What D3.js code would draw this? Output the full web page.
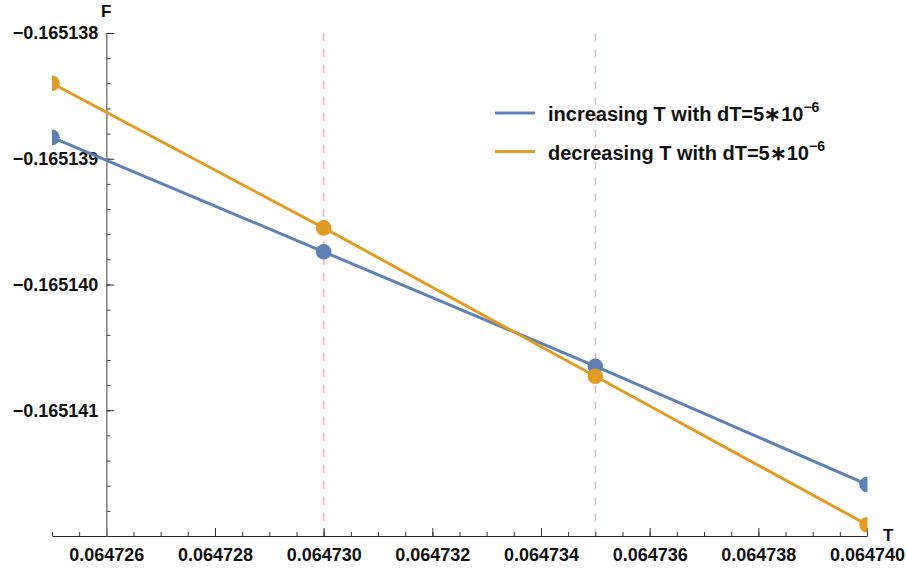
<!DOCTYPE html>
<html>
<head>
<meta charset="utf-8">
<script src="https://cdn.jsdelivr.net/npm/d3@7"></script>
<style>
  html, body { margin: 0; padding: 0; background: #fff; }
  svg { display: block; font-family: "Liberation Sans", Arial, sans-serif; }
</style>
</head>
<body>
<svg id="chart" width="906" height="569"></svg>
<script>
// Free energy F versus temperature T, sweeping T up and down
const temps = [0.064725, 0.064730, 0.064735, 0.064740];
const increasingF = [-0.16513883, -0.16513974, -0.16514065, -0.16514159];
const decreasingF = [-0.16513840, -0.16513955, -0.16514073, -0.16514191];
const seriesNames = ["increasing T with dT=5\u221710", "decreasing T with dT=5\u221710"];
const seriesExponent = "\u22126";
const seriesColors = ["#5e81b5", "#e19c24"];
const markerTemps = [0.064730, 0.064735];
const markerColors = ["#ffb0b0", "#eea4a4"];
const markerWidths = [1.8, 1.1];
const xMajorTicks = [0.064726, 0.064728, 0.064730, 0.064732, 0.064734, 0.064736, 0.064738, 0.064740];
const yMajorTicks = [-0.165138, -0.165139, -0.165140, -0.165141];

const FONT = "'Liberation Sans', Arial, sans-serif";
const svg = d3.select("#chart");

const x = d3.scaleLinear().domain([0.064725, 0.064740]).range([52, 867]);
const y = d3.scaleLinear().domain([-0.165142, -0.165138]).range([536, 33]);

const xMinor = d3.range(0, 31).map(i => 0.064725 + i * 0.5e-6);
const yMinor = d3.range(0, 21).map(i => -0.165142 + i * 0.2e-6);

const fmt = d3.format(".6f");
const yAxisX = x(0.064726);

// vertical dashed reference lines
svg.append("g").selectAll("line").data(markerTemps).join("line")
  .attr("x1", d => x(d)).attr("x2", d => x(d))
  .attr("y1", y(-0.165138)).attr("y2", y(-0.165142))
  .attr("stroke", (d, i) => markerColors[i])
  .attr("stroke-width", (d, i) => markerWidths[i]).attr("stroke-dasharray", "8,8");

function styleLabels(g) {
  g.attr("font-family", FONT).attr("font-size", 18).attr("font-weight", "bold");
  g.selectAll(".tick text").attr("fill", "#111");
}

// x axis: minor then major ticks, pointing up
const gx = svg.append("g").attr("transform", `translate(0,${y(-0.165142)})`);
gx.append("g")
  .call(d3.axisBottom(x).tickValues(xMinor).tickSizeInner(-4).tickSizeOuter(0).tickFormat(""))
  .call(g => g.select(".domain").remove())
  .call(g => g.selectAll("line").attr("stroke", "#333"));
gx.append("g")
  .call(d3.axisBottom(x).tickValues(xMajorTicks).tickSizeInner(-8).tickSizeOuter(0).tickPadding(12).tickFormat(fmt))
  .call(styleLabels)
  .call(g => g.select(".domain").attr("stroke", "#222").attr("stroke-width", 1.2))
  .call(g => g.selectAll(".tick line").attr("stroke", "#333"));

// y axis: minor then major ticks, pointing right
const gy = svg.append("g").attr("transform", `translate(${yAxisX},0)`);
gy.append("g")
  .call(d3.axisLeft(y).tickValues(yMinor).tickSizeInner(-4).tickSizeOuter(0).tickFormat(""))
  .call(g => g.select(".domain").remove())
  .call(g => g.selectAll("line").attr("stroke", "#333"));
gy.append("g")
  .call(d3.axisLeft(y).tickValues(yMajorTicks).tickSizeInner(-8).tickSizeOuter(0).tickPadding(8).tickFormat(fmt))
  .call(styleLabels)
  .call(g => g.select(".domain").attr("stroke", "#777").attr("stroke-width", 1.4))
  .call(g => g.selectAll(".tick line").attr("stroke", "#333"));

// axis titles
svg.append("text").attr("x", 101).attr("y", 17)
  .attr("font-weight", "bold").attr("font-size", 17).attr("fill", "#111").text("F");
svg.append("text").attr("x", 883).attr("y", 541)
  .attr("font-weight", "bold").attr("font-size", 17).attr("fill", "#111").text("T");

// data series
svg.append("defs").append("clipPath").attr("id", "plotClip")
  .append("rect").attr("x", 52).attr("y", 0).attr("width", 815.5).attr("height", 569);

const series = [increasingF, decreasingF];
const line = d3.line().x(d => x(d[0])).y(d => y(d[1]));
const plot = svg.append("g").attr("clip-path", "url(#plotClip)");
series.forEach((vals, i) => {
  const pts = temps.map((t, j) => [t, vals[j]]);
  plot.append("path").datum(pts)
    .attr("d", line).attr("fill", "none")
    .attr("stroke", seriesColors[i]).attr("stroke-width", 3);
});
series.forEach((vals, i) => {
  plot.append("g").selectAll("circle").data(temps.map((t, j) => [t, vals[j]])).join("circle")
    .attr("cx", d => x(d[0])).attr("cy", d => y(d[1])).attr("r", 7.8)
    .attr("fill", seriesColors[i]);
});

// legend
const legend = svg.append("g");
seriesNames.forEach((name, i) => {
  const ly = 113 + i * 38.5;
  legend.append("line").attr("x1", 495).attr("x2", 535).attr("y1", ly).attr("y2", ly)
    .attr("stroke", seriesColors[i]).attr("stroke-width", 3.2);
  const t = legend.append("text").attr("x", 548).attr("y", ly + 8)
    .attr("font-weight", "bold").attr("font-size", 20).attr("fill", "#111");
  t.append("tspan").text(name);
  t.append("tspan").attr("dy", -9).attr("font-size", 14).text(seriesExponent);
});
</script>
</body>
</html>
